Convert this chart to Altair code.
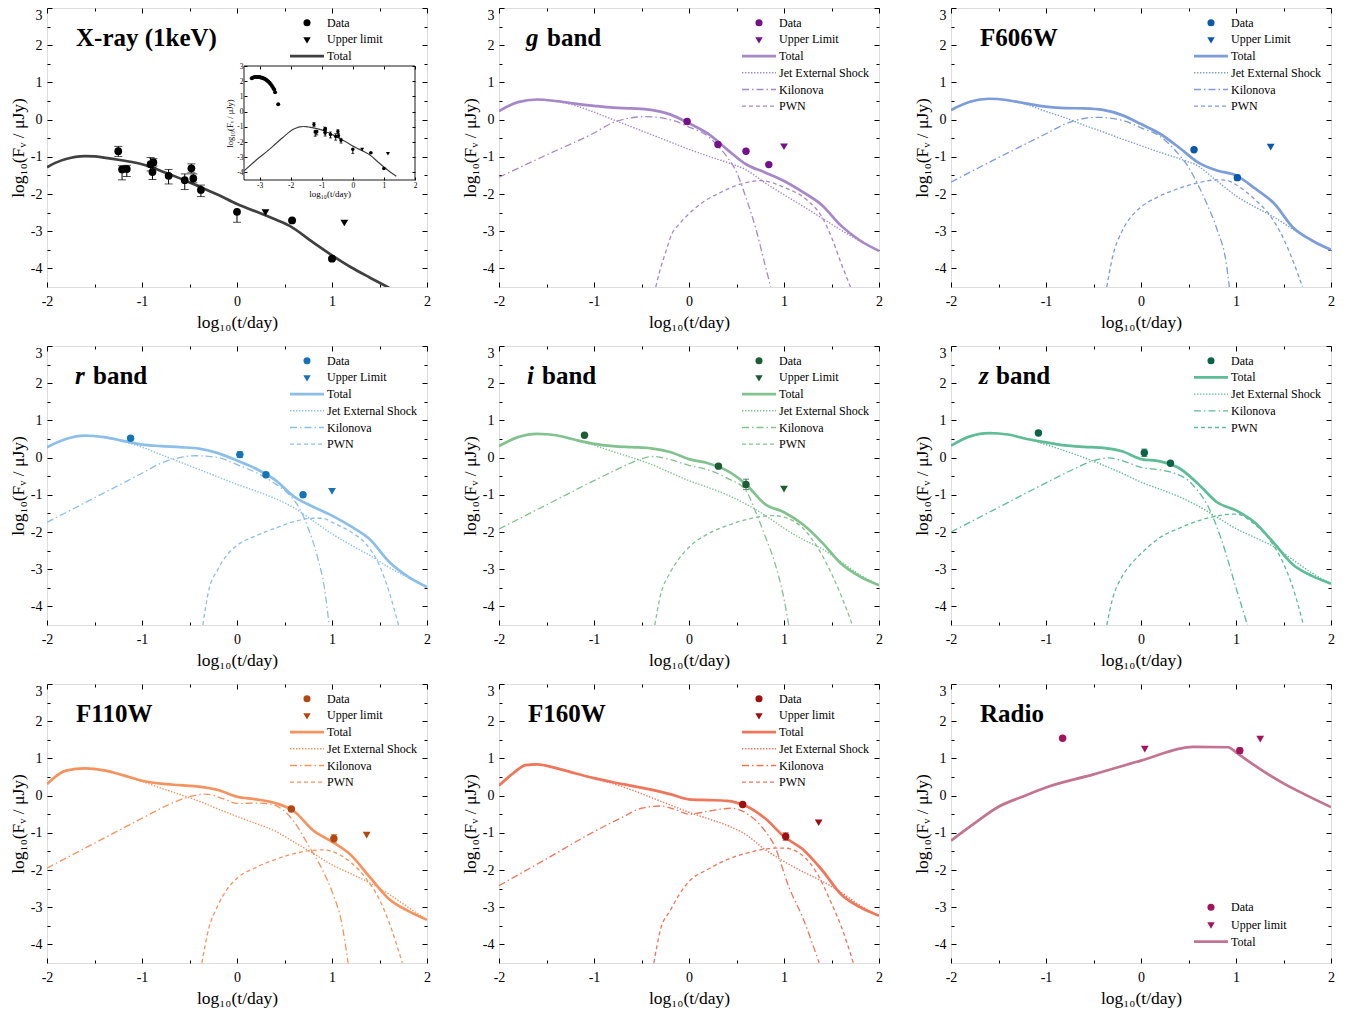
import altair as alt
import pandas as pd

FONT = "Liberation Serif"
W, H = 380, 279

# ---------------- data ----------------
X_GRID = [-2.0, -1.8, -1.6, -1.4, -1.2, -1.0, -0.8, -0.6, -0.4, -0.2, 0.0,
          0.2, 0.4, 0.6, 0.8, 1.0, 1.2, 1.4, 1.6, 1.8, 2.0]

# X-ray (1 keV)
XR_X = [-1.25, -1.21, -1.16, -0.91, -0.88, -0.89, -0.72, -0.55, -0.48, -0.46, -0.38, 0.0, 0.58, 1.0]
XR_Y = [-0.85, -1.34, -1.33, -1.20, -1.15, -1.41, -1.51, -1.63, -1.31, -1.58, -1.89, -2.48, -2.71, -3.74]
XR_LO = [0.14, 0.28, 0.20, 0.18, 0.10, 0.20, 0.22, 0.25, 0.12, 0.12, 0.18, 0.28, 0.02, 0.03]
XR_HI = [0.13, 0.10, 0.10, 0.18, 0.10, 0.12, 0.17, 0.17, 0.12, 0.12, 0.13, 0.00, 0.02, 0.03]
XR_UL_X = [0.30, 1.13]
XR_UL_Y = [-2.50, -2.78]
XR_TOT_X = [-2.0, -1.9, -1.8, -1.7, -1.6, -1.5, -1.4, -1.2, -1.0, -0.8, -0.6, -0.4, -0.2, 0.0,
            0.2, 0.4, 0.55, 0.8, 1.0, 1.2, 1.4, 1.6]
XR_TOT = [-1.28, -1.15, -1.06, -1.00, -0.98, -0.99, -1.02, -1.10, -1.20, -1.38, -1.58, -1.80, -2.02,
          -2.27, -2.47, -2.68, -2.85, -3.30, -3.65, -3.97, -4.25, -4.52]
XR_PRE_X = [-3.5, -3.25, -3.0, -2.75, -2.5, -2.25]
XR_PRE = [-3.90, -3.45, -3.00, -2.60, -2.15, -1.70]
XR_EARLY_X = [-3.25, -3.2, -3.15, -3.1, -3.05, -3.0, -2.96, -2.92, -2.88, -2.84, -2.8, -2.76,
              -2.72, -2.68, -2.64, -2.6, -2.56, -2.53, -2.5, -2.4]
XR_EARLY_Y = [2.20, 2.24, 2.27, 2.28, 2.28, 2.27, 2.25, 2.23, 2.20, 2.16, 2.11, 2.05, 1.98, 1.90,
              1.80, 1.68, 1.55, 1.45, 1.27, 0.48]

# g band
G_X = [-0.02, 0.305, 0.60, 0.84]
G_Y = [-0.05, -0.67, -0.85, -1.21]
G_E = [0, 0, 0, 0]
G_UL_X = [1.0]
G_UL_Y = [-0.73]
G_TOTAL = [0.23, 0.47, 0.54, 0.50, 0.43, 0.37, 0.32, 0.30, 0.26, 0.14, -0.10, -0.38, -0.80, -1.20,
           -1.42, -1.65, -1.95, -2.30, -2.85, -3.25, -3.53]
G_JET = [0.23, 0.47, 0.54, 0.49, 0.38, 0.20, 0.00, -0.20, -0.40, -0.60, -0.80, -0.98, -1.15, -1.35,
         -1.70, -2.02, -2.33, -2.65, -2.97, -3.27, -3.53]
G_KN_X = [-2.0, -1.5, -1.0, -0.8, -0.6, -0.45, -0.2, 0.0, 0.2, 0.3, 0.4, 0.5, 0.6, 0.7, 0.8, 0.86]
G_KN = [-1.55, -0.95, -0.36, -0.08, 0.05, 0.08, 0.00, -0.20, -0.45, -0.70, -1.00, -1.41, -2.10,
        -2.90, -3.90, -4.50]
G_PWN_X = [-0.35, -0.3, -0.25, -0.18, -0.1, 0.0, 0.17, 0.3, 0.5, 0.75, 1.0, 1.25, 1.4, 1.5, 1.6, 1.7]
G_PWN = [-4.50, -4.00, -3.60, -3.07, -2.80, -2.53, -2.18, -2.00, -1.77, -1.64, -1.82, -2.18, -2.62,
         -3.16, -3.85, -4.50]

# F606W
F606_X = [0.558, 1.014]
F606_Y = [-0.81, -1.56]
F606_E = [0, 0.07]
F606_UL_X = [1.365]
F606_UL_Y = [-0.74]
F606_TOTAL = [0.26, 0.48, 0.56, 0.52, 0.43, 0.35, 0.31, 0.30, 0.26, 0.12, -0.12, -0.38, -0.75,
              -1.15, -1.37, -1.50, -1.85, -2.25, -2.90, -3.25, -3.50]
F606_JET = [0.26, 0.48, 0.56, 0.51, 0.40, 0.22, 0.05, -0.15, -0.33, -0.52, -0.70, -0.88, -1.05,
            -1.25, -1.65, -2.05, -2.35, -2.62, -2.95, -3.25, -3.50]
F606_KN_X = [-2.0, -1.5, -1.0, -0.8, -0.6, -0.45, -0.2, 0.0, 0.2, 0.35, 0.5, 0.6, 0.7, 0.8, 0.9, 0.93]
F606_KN = [-1.68, -1.02, -0.38, -0.12, 0.03, 0.06, -0.02, -0.22, -0.45, -0.80, -1.28, -1.75, -2.30,
           -2.95, -3.90, -4.50]
F606_PWN_X = [-0.36, -0.3, -0.2, -0.1, 0.0, 0.2, 0.4, 0.6, 0.8, 0.9, 1.0, 1.2, 1.35, 1.5, 1.6, 1.7]
F606_PWN = [-4.50, -3.70, -3.00, -2.60, -2.35, -2.05, -1.85, -1.70, -1.62, -1.63, -1.75, -2.15,
            -2.55, -3.20, -3.80, -4.50]

# r band
R_X = [-1.12, 0.03, 0.305, 0.695]
R_Y = [0.52, 0.08, -0.46, -1.00]
R_E = [0, 0.08, 0, 0.06]
R_UL_X = [1.0]
R_UL_Y = [-0.91]
R_TOTAL = [0.28, 0.50, 0.59, 0.55, 0.45, 0.35, 0.31, 0.28, 0.24, 0.12, -0.08, -0.30, -0.60, -1.05,
           -1.32, -1.56, -1.85, -2.20, -2.80, -3.20, -3.48]
R_JET = [0.28, 0.50, 0.59, 0.54, 0.43, 0.28, 0.08, -0.12, -0.32, -0.52, -0.72, -0.90, -1.10, -1.35,
         -1.70, -2.05, -2.35, -2.63, -2.95, -3.22, -3.48]
R_KN_X = [-2.0, -1.5, -1.0, -0.8, -0.6, -0.44, -0.2, 0.0, 0.2, 0.4, 0.55, 0.65, 0.75, 0.85, 0.92, 0.97]
R_KN = [-1.74, -1.08, -0.42, -0.15, 0.00, 0.05, 0.00, -0.19, -0.40, -0.70, -1.00, -1.33, -1.90,
        -2.70, -3.50, -4.50]
R_PWN_X = [-0.36, -0.3, -0.2, -0.1, 0.0, 0.2, 0.4, 0.6, 0.8, 0.9, 1.0, 1.2, 1.35, 1.5, 1.6, 1.7]
R_PWN = [-4.50, -3.60, -3.00, -2.60, -2.36, -2.10, -1.90, -1.72, -1.63, -1.63, -1.74, -2.00, -2.30,
         -2.90, -3.60, -4.50]

# i band
I_X = [-1.10, 0.31, 0.60]
I_Y = [0.60, -0.23, -0.72]
I_E = [0, 0, 0.14]
I_UL_X = [1.0]
I_UL_Y = [-0.85]
I_TOTAL = [0.31, 0.55, 0.64, 0.60, 0.48, 0.37, 0.31, 0.28, 0.25, 0.15, -0.04, -0.15, -0.35, -0.72,
           -1.25, -1.47, -1.80, -2.28, -2.85, -3.20, -3.43]
I_JET = [0.31, 0.55, 0.64, 0.60, 0.47, 0.33, 0.16, 0.00, -0.18, -0.40, -0.62, -0.80, -1.00, -1.25,
         -1.55, -1.90, -2.20, -2.45, -2.80, -3.15, -3.43]
I_KN_X = [-2.0, -1.5, -1.0, -0.7, -0.5, -0.39, -0.2, 0.0, 0.2, 0.4, 0.6, 0.7, 0.8, 0.9, 1.0, 1.05]
I_KN = [-1.92, -1.27, -0.62, -0.25, -0.03, 0.03, -0.05, -0.21, -0.33, -0.55, -0.89, -1.45, -2.10,
        -2.80, -3.80, -4.50]
I_PWN_X = [-0.36, -0.3, -0.2, -0.1, 0.0, 0.2, 0.4, 0.6, 0.8, 0.9, 1.0, 1.2, 1.35, 1.5, 1.6, 1.72]
I_PWN = [-4.50, -3.70, -3.10, -2.70, -2.41, -2.05, -1.83, -1.67, -1.57, -1.56, -1.60, -1.90, -2.40,
         -3.12, -3.70, -4.50]

# z band
Z_X = [-1.08, 0.035, 0.31]
Z_Y = [0.66, 0.13, -0.15]
Z_E = [0, 0.10, 0]
Z_TOTAL = [0.32, 0.57, 0.66, 0.62, 0.50, 0.41, 0.33, 0.29, 0.26, 0.17, -0.04, -0.10, -0.28, -0.70,
           -1.20, -1.42, -1.75, -2.30, -2.88, -3.18, -3.39]
Z_JET = [0.32, 0.57, 0.66, 0.62, 0.50, 0.35, 0.18, 0.00, -0.20, -0.42, -0.66, -0.85, -1.05, -1.30,
         -1.60, -1.91, -2.15, -2.40, -2.75, -3.10, -3.39]
Z_KN_X = [-2.0, -1.5, -1.0, -0.7, -0.5, -0.34, -0.2, 0.0, 0.2, 0.35, 0.5, 0.6, 0.7, 0.85, 1.0, 1.12]
Z_KN = [-2.00, -1.34, -0.68, -0.30, -0.08, -0.01, -0.08, -0.26, -0.33, -0.42, -0.62, -0.90, -1.28,
        -2.23, -3.50, -4.50]
Z_PWN_X = [-0.36, -0.3, -0.2, -0.1, 0.0, 0.2, 0.4, 0.6, 0.8, 0.9, 1.0, 1.2, 1.35, 1.5, 1.6, 1.71]
Z_PWN = [-4.50, -3.80, -3.20, -2.85, -2.58, -2.15, -1.90, -1.70, -1.57, -1.53, -1.52, -1.80, -2.20,
         -2.85, -3.50, -4.50]

# F110W
F110_X = [0.572, 1.02]
F110_Y = [-0.36, -1.15]
F110_E = [0, 0.10]
F110_UL_X = [1.365]
F110_UL_Y = [-1.06]
F110_TOTAL = [0.31, 0.67, 0.73, 0.68, 0.55, 0.40, 0.32, 0.28, 0.24, 0.15, -0.03, -0.10, -0.20, -0.42,
              -0.93, -1.24, -1.60, -2.20, -2.78, -3.10, -3.34]
F110_JET = [0.31, 0.67, 0.73, 0.68, 0.55, 0.38, 0.20, 0.03, -0.15, -0.36, -0.56, -0.75, -0.95, -1.25,
            -1.55, -1.86, -2.10, -2.35, -2.65, -3.00, -3.34]
F110_KN_X = [-2.0, -1.5, -1.0, -0.7, -0.5, -0.33, -0.15, 0.0, 0.2, 0.35, 0.5, 0.6, 0.75, 0.9, 1.0, 1.1, 1.17]
F110_KN = [-1.95, -1.28, -0.61, -0.22, -0.03, 0.04, -0.08, -0.21, -0.20, -0.23, -0.42, -0.70, -1.33,
           -2.00, -2.58, -3.40, -4.50]
F110_PWN_X = [-0.37, -0.3, -0.2, -0.1, 0.0, 0.2, 0.4, 0.6, 0.8, 0.9, 1.0, 1.2, 1.35, 1.5, 1.6, 1.74]
F110_PWN = [-4.50, -3.60, -2.95, -2.50, -2.22, -1.93, -1.72, -1.56, -1.47, -1.46, -1.50, -1.80, -2.20,
            -2.80, -3.40, -4.50]

# F160W
F160_X = [0.565, 1.018]
F160_Y = [-0.24, -1.10]
F160_E = [0, 0.10]
F160_UL_X = [1.365]
F160_UL_Y = [-0.73]
F160_GRID = [-2.0, -1.85, -1.72, -1.6, -1.4, -1.2, -1.0, -0.8, -0.6, -0.4, -0.2, 0.0, 0.2, 0.4, 0.6,
             0.8, 1.0, 1.2, 1.4, 1.6, 1.8, 2.0]
F160_TOTAL = [0.27, 0.60, 0.82, 0.84, 0.74, 0.60, 0.47, 0.36, 0.26, 0.16, 0.04, -0.10, -0.12, -0.14,
              -0.28, -0.61, -1.10, -1.45, -2.00, -2.65, -3.00, -3.23]
F160_JET = [0.27, 0.60, 0.82, 0.84, 0.74, 0.60, 0.46, 0.32, 0.15, -0.05, -0.25, -0.45, -0.62, -0.80,
            -1.05, -1.45, -1.77, -2.05, -2.30, -2.60, -2.95, -3.23]
F160_KN_X = [-2.0, -1.5, -1.0, -0.7, -0.5, -0.3, -0.15, 0.0, 0.2, 0.45, 0.63, 0.8, 0.9, 1.05, 1.2, 1.37]
F160_KN = [-2.42, -1.70, -0.97, -0.58, -0.34, -0.28, -0.37, -0.50, -0.42, -0.34, -0.52, -0.95, -1.35,
           -2.45, -3.30, -4.50]
F160_PWN_X = [-0.37, -0.3, -0.2, -0.1, 0.0, 0.2, 0.4, 0.6, 0.8, 0.9, 1.0, 1.2, 1.35, 1.5, 1.6, 1.73]
F160_PWN = [-4.50, -3.60, -3.10, -2.65, -2.31, -1.98, -1.72, -1.55, -1.44, -1.41, -1.41, -1.62, -2.10,
            -2.90, -3.50, -4.50]

# Radio
RAD_X = [-0.825, 1.04]
RAD_Y = [1.54, 1.21]
RAD_E = [0, 0.07]
RAD_UL_X = [0.04, 1.255]
RAD_UL_Y = [1.25, 1.52]
RAD_TOT_X = [-2.0, -1.75, -1.5, -1.25, -1.0, -0.5, 0.0, 0.55, 0.92, 1.0, 1.25, 1.5, 1.75, 2.0]
RAD_TOT = [-1.21, -0.74, -0.30, -0.03, 0.22, 0.57, 0.94, 1.31, 1.30, 1.16, 0.72, 0.33, 0.00, -0.31]

# ---------------- helpers ----------------
DUMMY = alt.Data(values=[{"a": 0}])
DASH = {"jet": [1.4, 1.6], "kn": [7, 3, 1.5, 3], "pwn": [4, 3]}
WID = {"total": 2.7, "jet": 1.4, "kn": 1.3, "pwn": 1.3}
Y_TITLE = "log₁₀(Fᵥ / μJy)"
X_TITLE = "log₁₀(t/day)"
MINUS_FIX = "replace(datum.label, '\u2212', '-')"


def sx():
    return alt.Scale(domain=[-2, 2], nice=False, zero=False)


def sy():
    return alt.Scale(domain=[-4.5, 3], nice=False, zero=False)


def make_axis(orient, values, size, offset, labels=False, title=None, lsize=14, tsize=17.5,
              lpad=6, tpad=6, flush=False):
    kw = dict(orient=orient, values=values, tickSize=size, offset=offset, domain=False,
              grid=False, ticks=True, tickColor="black", tickWidth=1, labels=labels, title=title)
    if labels:
        kw.update(labelFont=FONT, labelFontSize=lsize, labelColor="black", labelPadding=lpad,
                  labelFlush=flush, labelOverlap=False, labelExpr=MINUS_FIX)
    if title:
        kw.update(titleFont=FONT, titleFontSize=tsize, titleColor="black",
                  titleFontWeight="normal", titlePadding=tpad)
    return alt.Axis(**kw)


def carrier(xax, yax, xs, ys):
    return alt.Chart(DUMMY).mark_point(opacity=0).encode(
        x=alt.X("a:Q", scale=xs, axis=xax), y=alt.Y("a:Q", scale=ys, axis=yax))


MAJ_X = [-2, -1, 0, 1, 2]
MIN_X = [-1.5, -0.5, 0.5, 1.5]
MAJ_Y = [-4, -3, -2, -1, 0, 1, 2, 3]
MIN_Y = [-3.5, -2.5, -1.5, -0.5, 0.5, 1.5, 2.5]


def main_axes():
    return [
        carrier(make_axis("bottom", MAJ_X, 5, -5, True, X_TITLE, lpad=7, tpad=5),
                make_axis("left", MAJ_Y, 5, -5, True, Y_TITLE, lpad=5, tpad=3, flush=True),
                sx(), sy()),
        carrier(make_axis("bottom", MIN_X, 3, -3), make_axis("left", MIN_Y, 3, -3), sx(), sy()),
        carrier(make_axis("top", MAJ_X, 5, -5), make_axis("right", MAJ_Y, 5, -5), sx(), sy()),
        carrier(make_axis("top", MIN_X, 3, -3), make_axis("right", MIN_Y, 3, -3), sx(), sy()),
    ]


def curve(xv, yv, color, kind, xs=None, ys=None, interp="monotone"):
    df = pd.DataFrame({"x": xv, "y": yv})
    kw = dict(color=color, strokeWidth=WID[kind], clip=True, interpolate=interp)
    if kind in DASH:
        kw["strokeDash"] = DASH[kind]
    return alt.Chart(df).mark_line(**kw).encode(
        x=alt.X("x:Q", scale=xs or sx(), axis=None),
        y=alt.Y("y:Q", scale=ys or sy(), axis=None))


def points(xv, yv, color, shape, size, xs=None, ys=None):
    df = pd.DataFrame({"x": xv, "y": yv})
    return alt.Chart(df).mark_point(shape=shape, filled=True, size=size, color=color,
                                    opacity=1, strokeWidth=0).encode(
        x=alt.X("x:Q", scale=xs or sx(), axis=None),
        y=alt.Y("y:Q", scale=ys or sy(), axis=None))


def errbars(xv, yv, lo, hi, color, cap=8, xs=None, ys=None):
    rows = [{"x": x, "lo": y - l, "hi": y + h} for x, y, l, h in zip(xv, yv, lo, hi) if (l > 0 or h > 0)]
    if not rows:
        return []
    df = pd.DataFrame(rows)
    base = alt.Chart(df)
    out = [base.mark_rule(color=color, strokeWidth=1).encode(
        x=alt.X("x:Q", scale=xs or sx(), axis=None),
        y=alt.Y("lo:Q", scale=ys or sy(), axis=None), y2="hi:Q")]
    for fld in ("lo", "hi"):
        out.append(base.mark_tick(orient="horizontal", size=cap, thickness=1, color=color).encode(
            x=alt.X("x:Q", scale=xs or sx(), axis=None),
            y=alt.Y(f"{fld}:Q", scale=ys or sy(), axis=None)))
    return out


def legend(rows, pcolor, lcolor, y0=14.7, dy=16.7):
    out = []
    for i, (kind, text) in enumerate(rows):
        y = y0 + i * dy
        if kind == "dot":
            out.append(alt.Chart(DUMMY).mark_point(shape="circle", filled=True, size=50, color=pcolor,
                                                   opacity=1, strokeWidth=0).encode(
                x=alt.value(260), y=alt.value(y)))
        elif kind == "tri":
            out.append(alt.Chart(DUMMY).mark_point(shape="triangle-down", filled=True, size=55,
                                                   color=pcolor, opacity=1, strokeWidth=0).encode(
                x=alt.value(260), y=alt.value(y + 1)))
        else:
            mk = dict(color=lcolor, strokeWidth=WID[kind])
            if kind in DASH:
                mk["strokeDash"] = DASH[kind]
            out.append(alt.Chart(DUMMY).mark_rule(**mk).encode(
                x=alt.value(243), x2=alt.value(277), y=alt.value(y)))
        out.append(alt.Chart(DUMMY).mark_text(align="left", baseline="middle", font=FONT,
                                              fontSize=12, color="black").encode(
            x=alt.value(280), y=alt.value(y), text=alt.value(text)))
    return out


def title_layers(parts):
    out = []
    for text, italic, x in parts:
        out.append(alt.Chart(DUMMY).mark_text(align="left", baseline="alphabetic", font=FONT,
                                              fontSize=25, fontWeight="bold",
                                              fontStyle="italic" if italic else "normal",
                                              color="black").encode(
            x=alt.value(x), y=alt.value(38), text=alt.value(text)))
    return out


FULL_ROWS = [("dot", "Data"), ("tri", "Upper Limit"), ("total", "Total"),
             ("jet", "Jet External Shock"), ("kn", "Kilonova"), ("pwn", "PWN")]
FULL_ROWS_L = [("dot", "Data"), ("tri", "Upper limit"), ("total", "Total"),
               ("jet", "Jet External Shock"), ("kn", "Kilonova"), ("pwn", "PWN")]


def band_panel(title, pcolor, lcolor, px, py, pe, ulx, uly, tx, ttot, tjet, knx, kn, pwnx, pwn, rows):
    layers = main_axes()
    layers += [curve(pwnx, pwn, lcolor, "pwn"), curve(knx, kn, lcolor, "kn"),
               curve(tx, tjet, lcolor, "jet"), curve(tx, ttot, lcolor, "total")]
    layers += errbars(px, py, pe, pe, pcolor, cap=6)
    layers += [points(px, py, pcolor, "circle", 55)]
    if ulx:
        layers += [points(ulx, uly, pcolor, "triangle-down", 60)]
    layers += legend(rows, pcolor, lcolor)
    layers += title_layers(title)
    return alt.layer(*layers).resolve_axis(x="independent", y="independent").properties(
        width=W, height=H)


def xray_panel():
    pc, lc = "#000000", "#404040"
    layers = main_axes()
    layers += [curve(XR_TOT_X, XR_TOT, lc, "total")]
    layers += errbars(XR_X, XR_Y, XR_LO, XR_HI, pc, cap=8)
    layers += [points(XR_X, XR_Y, pc, "circle", 60), points(XR_UL_X, XR_UL_Y, pc, "triangle-down", 60)]
    layers += legend([("dot", "Data"), ("tri", "Upper limit"), ("total", "Total")], pc, lc)
    layers += title_layers([("X-ray (1keV)", False, 29)])
    main = alt.layer(*layers).resolve_axis(x="independent", y="independent")

    def ixs():
        return alt.Scale(domain=[-3.5, 2], range=[197, 368], nice=False, zero=False)

    def iys():
        return alt.Scale(domain=[-4.5, 3], range=[172, 58], nice=False, zero=False)

    il = []
    il.append(carrier(make_axis("bottom", [-3, -2, -1, 0, 1, 2], 3, -110, True, X_TITLE,
                                lsize=7.5, tsize=9, lpad=1, tpad=1),
                      make_axis("left", MAJ_Y, 3, -200, True, Y_TITLE, lsize=7.5, tsize=8.5,
                                lpad=1, tpad=2), ixs(), iys()))
    il.append(carrier(make_axis("top", [-3, -2, -1, 0, 1, 2], 3, -61),
                      make_axis("right", MAJ_Y, 3, -15), ixs(), iys()))
    frame = pd.DataFrame({"x0": [-3.5], "x1": [2], "y0": [-4.5], "y1": [3]})
    il.append(alt.Chart(frame).mark_rect(fillOpacity=0, stroke="black", strokeWidth=0.9).encode(
        x=alt.X("x0:Q", scale=ixs(), axis=None), x2="x1:Q",
        y=alt.Y("y0:Q", scale=iys(), axis=None), y2="y1:Q"))
    inset_line = pd.DataFrame({"x": XR_PRE_X + XR_TOT_X[:-1], "y": XR_PRE + XR_TOT[:-1]})
    il.append(alt.Chart(inset_line).mark_line(color=lc, strokeWidth=1.2, interpolate="monotone").encode(
        x=alt.X("x:Q", scale=ixs(), axis=None), y=alt.Y("y:Q", scale=iys(), axis=None)))
    il += errbars(XR_X, XR_Y, XR_LO, XR_HI, pc, cap=3, xs=ixs(), ys=iys())
    il.append(points(XR_EARLY_X, XR_EARLY_Y, pc, "circle", 16, ixs(), iys()))
    il.append(points(XR_X, XR_Y, pc, "circle", 12, ixs(), iys()))
    il.append(points(XR_UL_X, XR_UL_Y, pc, "triangle-down", 16, ixs(), iys()))
    inset = alt.layer(*il).resolve_axis(x="independent", y="independent")
    return alt.layer(main, inset).resolve_scale(x="independent", y="independent").properties(
        width=W, height=H)


def radio_panel():
    pc, lc = "#A3145C", "#C27491"
    layers = main_axes()
    layers += [curve(RAD_TOT_X, RAD_TOT, lc, "total")]
    layers += errbars(RAD_X, RAD_Y, RAD_E, RAD_E, pc, cap=6)
    layers += [points(RAD_X, RAD_Y, pc, "circle", 55), points(RAD_UL_X, RAD_UL_Y, pc, "triangle-down", 60)]
    layers += legend([("dot", "Data"), ("tri", "Upper limit"), ("total", "Total")], pc, lc,
                     y0=223.3, dy=17.2)
    layers += title_layers([("Radio", False, 29)])
    return alt.layer(*layers).resolve_axis(x="independent", y="independent").properties(
        width=W, height=H)


p_x = xray_panel()
p_g = band_panel([("g", True, 27), ("band", False, 48)], "#74108A", "#A688C8",
                 G_X, G_Y, G_E, G_UL_X, G_UL_Y, X_GRID, G_TOTAL, G_JET, G_KN_X, G_KN,
                 G_PWN_X, G_PWN, FULL_ROWS)
p_f606 = band_panel([("F606W", False, 29)], "#0B57A8", "#7C9CDA",
                    F606_X, F606_Y, F606_E, F606_UL_X, F606_UL_Y, X_GRID, F606_TOTAL, F606_JET,
                    F606_KN_X, F606_KN, F606_PWN_X, F606_PWN, FULL_ROWS)
p_r = band_panel([("r", True, 28), ("band", False, 46)], "#1573B8", "#8BBFEA",
                 R_X, R_Y, R_E, R_UL_X, R_UL_Y, X_GRID, R_TOTAL, R_JET, R_KN_X, R_KN,
                 R_PWN_X, R_PWN, FULL_ROWS)
p_i = band_panel([("i", True, 28), ("band", False, 43)], "#1D5C35", "#82C28F",
                 I_X, I_Y, I_E, I_UL_X, I_UL_Y, X_GRID, I_TOTAL, I_JET, I_KN_X, I_KN,
                 I_PWN_X, I_PWN, FULL_ROWS)
p_z = band_panel([("z", True, 28), ("band", False, 45)], "#0C6446", "#5EBC96",
                 Z_X, Z_Y, Z_E, [], [], X_GRID, Z_TOTAL, Z_JET, Z_KN_X, Z_KN,
                 Z_PWN_X, Z_PWN,
                 [("dot", "Data"), ("total", "Total"), ("jet", "Jet External Shock"),
                  ("kn", "Kilonova"), ("pwn", "PWN")])
p_f110 = band_panel([("F110W", False, 29)], "#B3470F", "#F5935E",
                    F110_X, F110_Y, F110_E, F110_UL_X, F110_UL_Y, X_GRID, F110_TOTAL, F110_JET,
                    F110_KN_X, F110_KN, F110_PWN_X, F110_PWN, FULL_ROWS_L)
p_f160 = band_panel([("F160W", False, 29)], "#A00F0F", "#EE765A",
                    F160_X, F160_Y, F160_E, F160_UL_X, F160_UL_Y, F160_GRID, F160_TOTAL, F160_JET,
                    F160_KN_X, F160_KN, F160_PWN_X, F160_PWN, FULL_ROWS_L)
p_radio = radio_panel()

chart = alt.concat(p_x, p_g, p_f606, p_r, p_i, p_z, p_f110, p_f160, p_radio,
                   columns=3, spacing={"row": 59, "column": 72}, bounds="flush").properties(
    padding={"left": 0, "top": -1, "right": 4, "bottom": 2}
).configure_view(stroke="black", strokeWidth=1.3).configure(background="white")

chart.save("out.html", embed_options={"renderer": "svg", "actions": False})
